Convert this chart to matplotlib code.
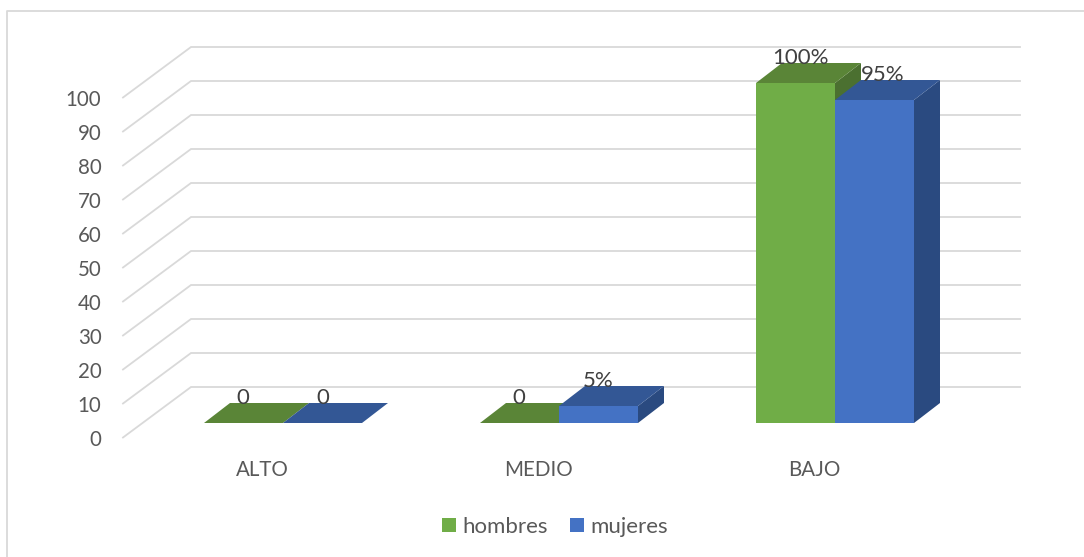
"""Pseudo-3D clustered columns: hombres vs mujeres por nivel."""

import matplotlib

matplotlib.use("Agg")
import matplotlib.pyplot as plt
from matplotlib.patches import Patch, Polygon
from matplotlib.transforms import ScaledTranslation

plt.rcParams["font.family"] = ["Lato", "DejaVu Sans"]

categories = ["ALTO", "MEDIO", "BAJO"]
hombres = [0, 0, 100]
mujeres = [0, 5, 95]
hombres_labels = ["0", "0", "100%"]
mujeres_labels = ["0", "5%", "95%"]
y_ticks = [0, 10, 20, 30, 40, 50, 60, 70, 80, 90, 100]

WIDTH, HEIGHT = 1084, 557
GRID = "#d9d9d9"
TEXT = "#595959"
LABEL = "#404040"

# pixel geometry of the fake 3D box
PX_LEFT, PX_RIGHT = 123, 1020
PX_ZERO, PX_PER_UNIT = 437.5, 3.4
PX_CAT0, PX_PER_CAT = 262, 276

WALL_DX = 68 / PX_PER_CAT
WALL_DY = 50.5 / PX_PER_UNIT
BAR_DX = 26 / PX_PER_CAT
BAR_DY = 20 / PX_PER_UNIT
BAR_W = 79 / PX_PER_CAT
BAR_SHIFT = 21 / PX_PER_CAT  # cluster centre sits right of the tick
FLOOR = 14.5 / PX_PER_UNIT


def draw_bar(ax, x, value, colors):
    front, top, side = colors
    y0, y1 = FLOOR, FLOOR + value
    ax.add_patch(Polygon([(x + BAR_W, y0), (x + BAR_W + BAR_DX, y0 + BAR_DY),
                          (x + BAR_W + BAR_DX, y1 + BAR_DY), (x + BAR_W, y1)],
                         facecolor=side, edgecolor="none", zorder=3, clip_on=False))
    ax.add_patch(Polygon([(x, y1), (x + BAR_W, y1),
                          (x + BAR_W + BAR_DX, y1 + BAR_DY), (x + BAR_DX, y1 + BAR_DY)],
                         facecolor=top, edgecolor="none", zorder=3, clip_on=False))
    ax.bar(x, value, BAR_W, bottom=y0, align="edge", color=front, zorder=3, clip_on=False)


def put_label(ax, x, value, text, dx_px):
    ax.annotate(text, (x + BAR_W / 2, FLOOR + value + BAR_DY), xytext=(dx_px * 0.72, 5 * 0.72),
                textcoords="offset points", ha="center", va="center",
                fontsize=16, color=LABEL, zorder=5, annotation_clip=False)


fig = plt.figure(figsize=(WIDTH / 100, HEIGHT / 100), dpi=100)

# outer chart frame: only top and left survive in the source image
fig.add_artist(plt.Line2D([7 / WIDTH, 7 / WIDTH, 1],
                          [0, 1 - 11 / HEIGHT, 1 - 11 / HEIGHT],
                          color=GRID, lw=1.3))

ax = fig.add_axes([PX_LEFT / WIDTH, 1 - PX_ZERO / HEIGHT,
                   (PX_RIGHT - PX_LEFT) / WIDTH, 340 / HEIGHT])
ax.set_xlim((PX_LEFT - PX_CAT0) / PX_PER_CAT, (PX_RIGHT - PX_CAT0) / PX_PER_CAT)
ax.set_ylim(0, 100)
for spine in ax.spines.values():
    spine.set_visible(False)
ax.patch.set_visible(False)

ax.set_xticks(range(len(categories)), categories)
ax.set_yticks(y_ticks)
ax.tick_params(axis="both", length=0, labelsize=14.8, labelcolor=TEXT)
ax.tick_params(axis="y", pad=15.5)
ax.tick_params(axis="x", pad=16)

# Lato sits a little high compared with the source font
nudge = ScaledTranslation(0, -0.7 / 72, fig.dpi_scale_trans)
for label in ax.get_yticklabels():
    label.set_transform(label.get_transform() + nudge)

# wall gridlines: slanted side wall then flat back wall
x_min = ax.get_xlim()[0]
x_max = ax.get_xlim()[1]
for tick in y_ticks:
    ax.plot([x_min, x_min + WALL_DX, x_max], [tick, tick + WALL_DY, tick + WALL_DY],
            color=GRID, lw=1.3, clip_on=False, zorder=1, solid_joinstyle="miter")

green = ("#70ad47", "#5a8537", "#4b7030")
blue = ("#4472c4", "#335795", "#2a4a80")
label_dx_h = [-1, -1, 5]
label_dx_m = [0, 0, 8]

for i in range(len(categories)):
    x_center = i + BAR_SHIFT
    draw_bar(ax, x_center - BAR_W, hombres[i], green)
    draw_bar(ax, x_center, mujeres[i], blue)

for i in range(len(categories)):
    x_center = i + BAR_SHIFT
    put_label(ax, x_center - BAR_W, hombres[i], hombres_labels[i], label_dx_h[i])
    put_label(ax, x_center, mujeres[i], mujeres_labels[i], label_dx_m[i])

handles = [Patch(facecolor=green[0], label="hombres"), Patch(facecolor=blue[0], label="mujeres")]
fig.legend(handles=handles, loc="center", bbox_to_anchor=(555 / WIDTH, 1 - 527 / HEIGHT),
           ncol=2, frameon=False, fontsize=16, labelcolor=TEXT, handlelength=0.63,
           handleheight=0.63, handletextpad=0.27, columnspacing=1.0)

fig.savefig("out.png", dpi=100)
